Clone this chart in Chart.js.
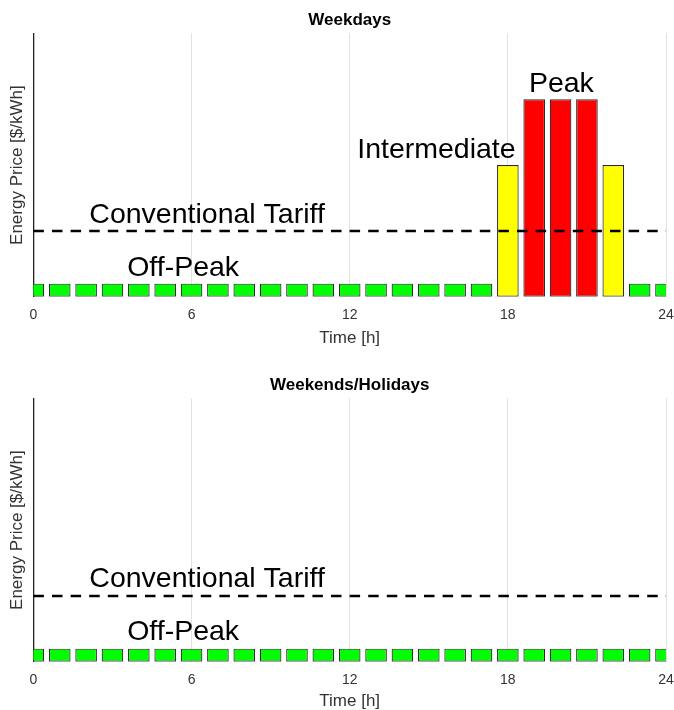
<!DOCTYPE html>
<html>
<head>
<meta charset="utf-8">
<script src="https://cdn.jsdelivr.net/npm/chart.js@4.4.1/dist/chart.umd.min.js"></script>
<style>
  html, body { margin: 0; padding: 0; background: #fff; }
  .wrap { position: absolute; left: 0; width: 674px; height: 355px; }
  canvas { display: block; }
</style>
</head>
<body>
<div class="wrap" style="top:0"><canvas id="c1" width="674" height="355"></canvas></div>
<div class="wrap" style="top:355px"><canvas id="c2" width="674" height="355"></canvas></div>
<script>
// ---- data ----
const hours = [0,1,2,3,4,5,6,7,8,9,10,11,12,13,14,15,16,17,18,19,20,21,22,23,24];
const weekdayPrice = [0.05,0.05,0.05,0.05,0.05,0.05,0.05,0.05,0.05,0.05,0.05,0.05,0.05,0.05,0.05,0.05,0.05,0.05,0.5,0.75,0.75,0.75,0.5,0.05,0.05];
const weekdayPeriod = ['off','off','off','off','off','off','off','off','off','off','off','off','off','off','off','off','off','off','mid','peak','peak','peak','mid','off','off'];
const weekendPrice = [0.05,0.05,0.05,0.05,0.05,0.05,0.05,0.05,0.05,0.05,0.05,0.05,0.05,0.05,0.05,0.05,0.05,0.05,0.05,0.05,0.05,0.05,0.05,0.05,0.05];
const weekendPeriod = ['off','off','off','off','off','off','off','off','off','off','off','off','off','off','off','off','off','off','off','off','off','off','off','off','off'];
const tariffX = [0, 24];
const tariffPrice = [0.25, 0.25];
const xTicks = [0, 6, 12, 18, 24];
const titles = ['Weekdays', 'Weekends/Holidays'];
const weekdayLabels = [
  {text: 'Off-Peak', x: 5.68, y: 0.08},
  {text: 'Conventional Tariff', x: 6.59, y: 0.281},
  {text: 'Intermediate', x: 15.29, y: 0.528},
  {text: 'Peak', x: 20.03, y: 0.779}
];
const weekendLabels = [
  {text: 'Off-Peak', x: 5.68, y: 0.083},
  {text: 'Conventional Tariff', x: 6.59, y: 0.284}
];

const periodColor = {off: '#00ff00', mid: '#ffff00', peak: '#ff0000'};
const FONT = "'Liberation Sans', Arial, sans-serif";

const textPlugin = {
  id: 'textLabels',
  afterDatasetsDraw(chart, args, opts) {
    const {ctx, scales} = chart;
    ctx.save();
    ctx.font = '28.5px ' + FONT;
    ctx.fillStyle = '#000';
    ctx.textAlign = 'center';
    ctx.textBaseline = 'alphabetic';
    (opts.items || []).forEach(l => {
      ctx.fillText(l.text, scales.x.getPixelForValue(l.x), scales.y.getPixelForValue(l.y));
    });
    ctx.restore();
  }
};

function makeChart(id, title, prices, periods, labels, pad) {
  new Chart(document.getElementById(id), {
    data: {
      datasets: [
        {
          type: 'line',
          data: tariffX.map((x, i) => ({x, y: tariffPrice[i]})),
          borderColor: '#000',
          borderWidth: 2.5,
          borderDash: [10.5, 8.1],
          pointRadius: 0,
          fill: false,
          order: 0
        },
        {
          type: 'bar',
          data: hours.map((h, i) => ({x: h, y: prices[i]})),
          backgroundColor: periods.map(p => periodColor[p]),
          borderColor: '#2b2b2b',
          borderWidth: 1.2,
          borderSkipped: false,
          barPercentage: 0.82,
          categoryPercentage: 1.0,
          order: 1
        }
      ]
    },
    options: {
      responsive: false,
      animation: false,
      devicePixelRatio: 1,
      layout: {padding: {left: 0, right: 0, top: 0, bottom: 0}},
      plugins: {
        legend: {display: false},
        tooltip: {enabled: false},
        title: {
          display: true,
          text: title,
          fullSize: false,
          color: '#000',
          font: {family: FONT, size: 17, weight: 'bold'},
          padding: {top: pad.titleTop, bottom: 3}
        },
        textLabels: {items: labels}
      },
      scales: {
        x: {
          type: 'linear',
          min: 0,
          max: 24,
          offset: false,
          afterBuildTicks: (axis) => { axis.ticks = xTicks.map(v => ({value: v})); },
          afterFit: (axis) => { axis.paddingLeft = 0; axis.paddingRight = 8; },
          ticks: {
            color: '#333',
            font: {family: FONT, size: 14},
            padding: 10
          },
          grid: {display: true, offset: false, color: '#e2e2e2', lineWidth: 1, drawTicks: false},
          border: {display: false},
          title: {
            display: true,
            text: 'Time [h]',
            color: '#333',
            font: {family: FONT, size: 17},
            padding: {top: pad.xTitleTop, bottom: pad.xTitleBottom}
          }
        },
        y: {
          min: 0,
          max: 1,
          ticks: {display: false},
          grid: {display: false, drawTicks: false},
          border: {display: true, color: '#222', width: 1.3},
          title: {
            display: true,
            text: 'Energy Price [$/kWh]',
            color: '#333',
            font: {family: FONT, size: 17},
            padding: {top: 7, bottom: 6}
          }
        }
      }
    },
    plugins: [textPlugin]
  });
}

makeChart('c1', titles[0], weekdayPrice, weekdayPeriod, weekdayLabels, {titleTop: 10, xTitleTop: -5, xTitleBottom: 6});
makeChart('c2', titles[1], weekendPrice, weekendPeriod, weekendLabels, {titleTop: 20, xTitleTop: -7, xTitleBottom: -2});
</script>
</body>
</html>
